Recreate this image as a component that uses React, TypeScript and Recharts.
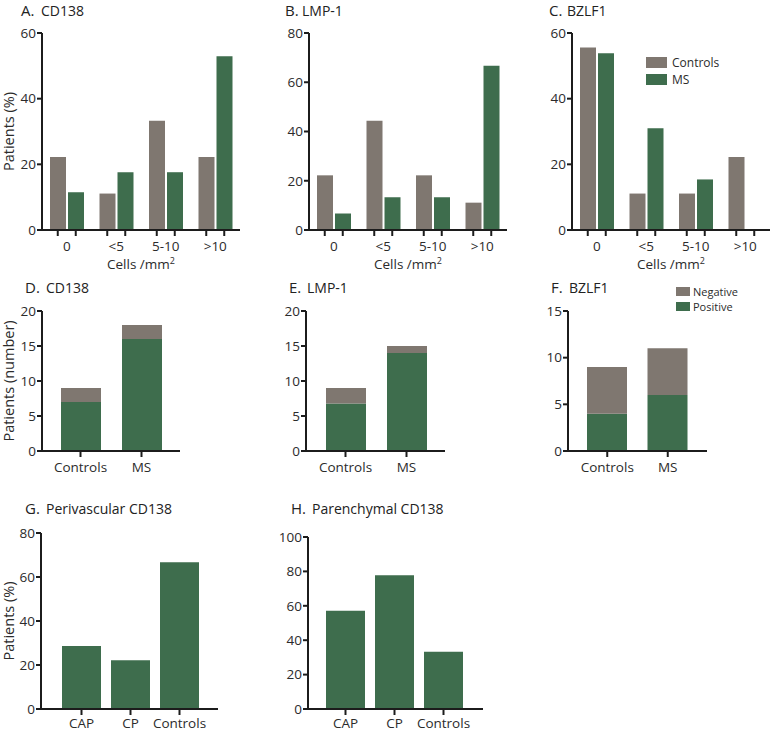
import { BarChart, Bar, XAxis, YAxis, Legend } from "recharts";

const GRAY = "#7f7770";
const GREEN = "#3e6d4d";
const AXIS = "#1c1c1c";
const TEXT = "#2b2b2b";
const FONT = "'Open Sans', sans-serif";

// A-C: % of patients per density bin
const cellBins = ["0", "<5", "5-10", ">10"];
const cd138Controls = [22.2, 11.1, 33.3, 22.2];
const cd138MS = [11.5, 17.6, 17.6, 52.9];
const lmp1Controls = [22.2, 44.4, 22.2, 11.1];
const lmp1MS = [6.7, 13.3, 13.3, 66.7];
const bzlf1Controls = [55.6, 11.1, 11.1, 22.2];
const bzlf1MS = [53.8, 31.0, 15.4, 0];

// D-F: number of patients, positive / negative
const groups = ["Controls", "MS"];
const cd138Positive = [7, 16];
const cd138Negative = [2, 2];
const lmp1Positive = [6.8, 14];
const lmp1Negative = [2.2, 1];
const bzlf1Positive = [4, 6];
const bzlf1Negative = [5, 5];

// G-H
const lesionGroups = ["CAP", "CP", "Controls"];
const perivascular = [28.6, 22.2, 66.7];
const parenchymal = [57.1, 77.8, 33.3];

const ticks60 = [0, 20, 40, 60];
const ticks80 = [0, 20, 40, 60, 80];
const ticks100 = [0, 20, 40, 60, 80, 100];
const ticks20 = [0, 5, 10, 15, 20];
const ticks15 = [0, 5, 10, 15];

const grouped = (controls: number[], ms: number[]) =>
  cellBins.map((bin, i) => ({ cat: bin, controls: controls[i], ms: ms[i] }));
const stacked = (pos: number[], neg: number[]) =>
  groups.map((g, i) => ({ cat: g, positive: pos[i], negative: neg[i] }));
const single = (vals: number[]) =>
  lesionGroups.map((g, i) => ({ cat: g, value: vals[i] }));

function makeTick(offsets: number[], dy: number) {
  return (props: any) => {
    const { x, y, payload } = props;
    return (
      <g>
        {offsets.map((o) => (
          <line key={o} x1={x + o} x2={x + o} y1={y} y2={y + 6} stroke={AXIS} strokeWidth={2} />
        ))}
        <text x={x} y={y + dy} textAnchor="middle" fontSize={13.5} fill={TEXT} fontFamily={FONT}>
          {payload.value}
        </text>
      </g>
    );
  };
}

const cellsLabel = (props: any) => {
  const vb = props.viewBox || {};
  return (
    <text x={vb.x + vb.width / 2} y={vb.y + 39} textAnchor="middle" fontSize={13.5} fill={TEXT} fontFamily={FONT}>
      Cells /mm
      <tspan dy={-5} fontSize={9}>2</tspan>
    </text>
  );
};

const yLabel = (text: string) => (props: any) => {
  const vb = props.viewBox || {};
  const cx = 8;
  const cy = vb.y + vb.height / 2;
  return (
    <text
      x={cx}
      y={cy}
      transform={`rotate(-90, ${cx}, ${cy})`}
      textAnchor="middle"
      dominantBaseline="central"
      fontSize={14.5}
      fill={TEXT}
      fontFamily={FONT}
    >
      {text}
    </text>
  );
};

type LegendItem = { name: string; color: string };

const legendBox = (items: LegendItem[], sw: number, sh: number, pitch: number, gap: number, fs: number) => () => (
  <div style={{ fontFamily: FONT, fontSize: fs, color: TEXT, lineHeight: `${pitch}px` }}>
    {items.map((it) => (
      <div key={it.name} style={{ display: "flex", alignItems: "center", height: pitch }}>
        <div style={{ width: sw, height: sh, background: it.color, marginRight: gap }} />
        <span style={{ lineHeight: `${pitch}px` }}>{it.name}</span>
      </div>
    ))}
  </div>
);

interface PanelProps {
  box: [number, number, number, number]; // left, top, width, height
  plot: [number, number, number, number]; // left, top, right, bottom
  data: any[];
  yTicks: number[];
  tickOffsets: number[];
  labelDy?: number;
  xPadding?: { left: number; right: number };
  yTitle?: string;
  cellsTitle?: boolean;
  legend?: { left: number; top: number; render: () => any };
  children: any;
}

function Panel({ box, plot, data, yTicks, tickOffsets, labelDy = 21, xPadding, yTitle, cellsTitle, legend, children }: PanelProps) {
  const [L, T, W, H] = box;
  const [pl, pt, pr, pb] = plot;
  return (
    <div style={{ position: "absolute", left: L, top: T, width: W, height: H }}>
      <BarChart
        width={W}
        height={H}
        data={data}
        margin={{ top: pt - T, right: L + W - pr, bottom: 0, left: 0 }}
        barGap={2}
      >
        <XAxis
          dataKey="cat"
          height={T + H - pb}
          interval={0}
          padding={xPadding || { left: 0, right: 0 }}
          axisLine={{ stroke: AXIS, strokeWidth: 2 }}
          tickLine={false}
          tickSize={0}
          tickMargin={0}
          tick={makeTick(tickOffsets, labelDy)}
          label={cellsTitle ? { content: cellsLabel } : undefined}
        />
        <YAxis
          width={pl - L}
          domain={[0, yTicks[yTicks.length - 1]]}
          ticks={yTicks}
          interval={0}
          axisLine={{ stroke: AXIS, strokeWidth: 2 }}
          tickLine={{ stroke: AXIS, strokeWidth: 2 }}
          tickSize={5}
          tickMargin={1}
          tick={{ fontSize: 13.5, fill: TEXT, fontFamily: FONT }}
          label={yTitle ? { content: yLabel(yTitle) } : undefined}
        />
        {legend && (
          <Legend
            layout="vertical"
            align="center"
            verticalAlign="middle"
            wrapperStyle={{ left: legend.left, top: legend.top, width: "auto", height: "auto" }}
            content={legend.render}
          />
        )}
        {children}
      </BarChart>
    </div>
  );
}

const titles = [
  { l: "A.", s: "CD138", x: 21, sx: 41, y: 16 },
  { l: "B.", s: "LMP-1", x: 285, sx: 302, y: 16 },
  { l: "C.", s: "BZLF1", x: 549, sx: 567, y: 16 },
  { l: "D.", s: "CD138", x: 25, sx: 46, y: 293 },
  { l: "E.", s: "LMP-1", x: 289, sx: 307, y: 293 },
  { l: "F.", s: "BZLF1", x: 551, sx: 569, y: 293 },
  { l: "G.", s: "Perivascular CD138", x: 25, sx: 46, y: 514 },
  { l: "H.", s: "Parenchymal CD138", x: 291, sx: 312, y: 514 },
];

export default function App() {
  const pair = [-9, 9];
  const mid = [0];
  const groupBars = [
    <Bar key="c" dataKey="controls" fill={GRAY} barSize={16} isAnimationActive={false} />,
    <Bar key="m" dataKey="ms" fill={GREEN} barSize={16} isAnimationActive={false} />,
  ];
  const stackBars = [
    <Bar key="p" dataKey="positive" stackId="s" fill={GREEN} barSize={40} isAnimationActive={false} />,
    <Bar key="n" dataKey="negative" stackId="s" fill={GRAY} barSize={40} isAnimationActive={false} />,
  ];
  const singleBar = <Bar dataKey="value" fill={GREEN} barSize={39} isAnimationActive={false} />;

  return (
    <div style={{ position: "absolute", left: 0, top: 0, width: 771, height: 731, background: "#fff", overflow: "hidden" }}>
      <Panel box={[0, 0, 260, 280]} plot={[42, 33, 240, 230]} data={grouped(cd138Controls, cd138MS)} yTicks={ticks60} tickOffsets={pair} yTitle="Patients (%)" cellsTitle>
        {groupBars}
      </Panel>
      <Panel box={[260, 0, 260, 280]} plot={[309, 33, 507, 230]} data={grouped(lmp1Controls, lmp1MS)} yTicks={ticks80} tickOffsets={pair} cellsTitle>
        {groupBars}
      </Panel>
      <Panel
        box={[520, 0, 251, 280]}
        plot={[572, 33, 770, 230]}
        data={grouped(bzlf1Controls, bzlf1MS)}
        yTicks={ticks60}
        tickOffsets={pair}
        cellsTitle
        legend={{
          left: 126,
          top: 54,
          render: legendBox([{ name: "Controls", color: GRAY }, { name: "MS", color: GREEN }], 21, 11, 17, 5, 12),
        }}
      >
        {groupBars}
      </Panel>

      <Panel box={[0, 280, 260, 200]} plot={[42, 311, 180, 451]} data={stacked(cd138Positive, cd138Negative)} yTicks={ticks20} tickOffsets={mid} xPadding={{ left: 8, right: 8 }} yTitle="Patients (number)">
        {stackBars}
      </Panel>
      <Panel box={[260, 280, 260, 200]} plot={[306, 311, 445, 451]} data={stacked(lmp1Positive, lmp1Negative)} yTicks={ticks20} tickOffsets={mid} xPadding={{ left: 9, right: 8 }}>
        {stackBars}
      </Panel>
      <Panel
        box={[520, 280, 251, 200]}
        plot={[568, 311, 707, 451]}
        data={stacked(bzlf1Positive, bzlf1Negative)}
        yTicks={ticks15}
        tickOffsets={mid}
        xPadding={{ left: 9, right: 9 }}
        legend={{
          left: 156,
          top: 4,
          render: legendBox([{ name: "Negative", color: GRAY }, { name: "Positive", color: GREEN }], 14, 9, 15, 3, 11),
        }}
      >
        {stackBars}
      </Panel>

      <Panel box={[0, 520, 260, 211]} plot={[41, 533, 218, 709]} data={single(perivascular)} yTicks={ticks80} tickOffsets={mid} labelDy={19} xPadding={{ left: 16, right: 14 }} yTitle="Patients (%)">
        {singleBar}
      </Panel>
      <Panel box={[260, 520, 260, 211]} plot={[308, 537, 483, 709]} data={single(parenchymal)} yTicks={ticks100} tickOffsets={mid} labelDy={19} xPadding={{ left: 13, right: 15 }}>
        {singleBar}
      </Panel>

      <svg width={771} height={731} style={{ position: "absolute", left: 0, top: 0, pointerEvents: "none" }}>
        {titles.map((t) => (
          <g key={t.l} fill="#222" fontFamily={FONT}>
            <text x={t.x} y={t.y} fontSize={15}>{t.l}</text>
            <text x={t.sx} y={t.y} fontSize={14}>{t.s}</text>
          </g>
        ))}
      </svg>
    </div>
  );
}
